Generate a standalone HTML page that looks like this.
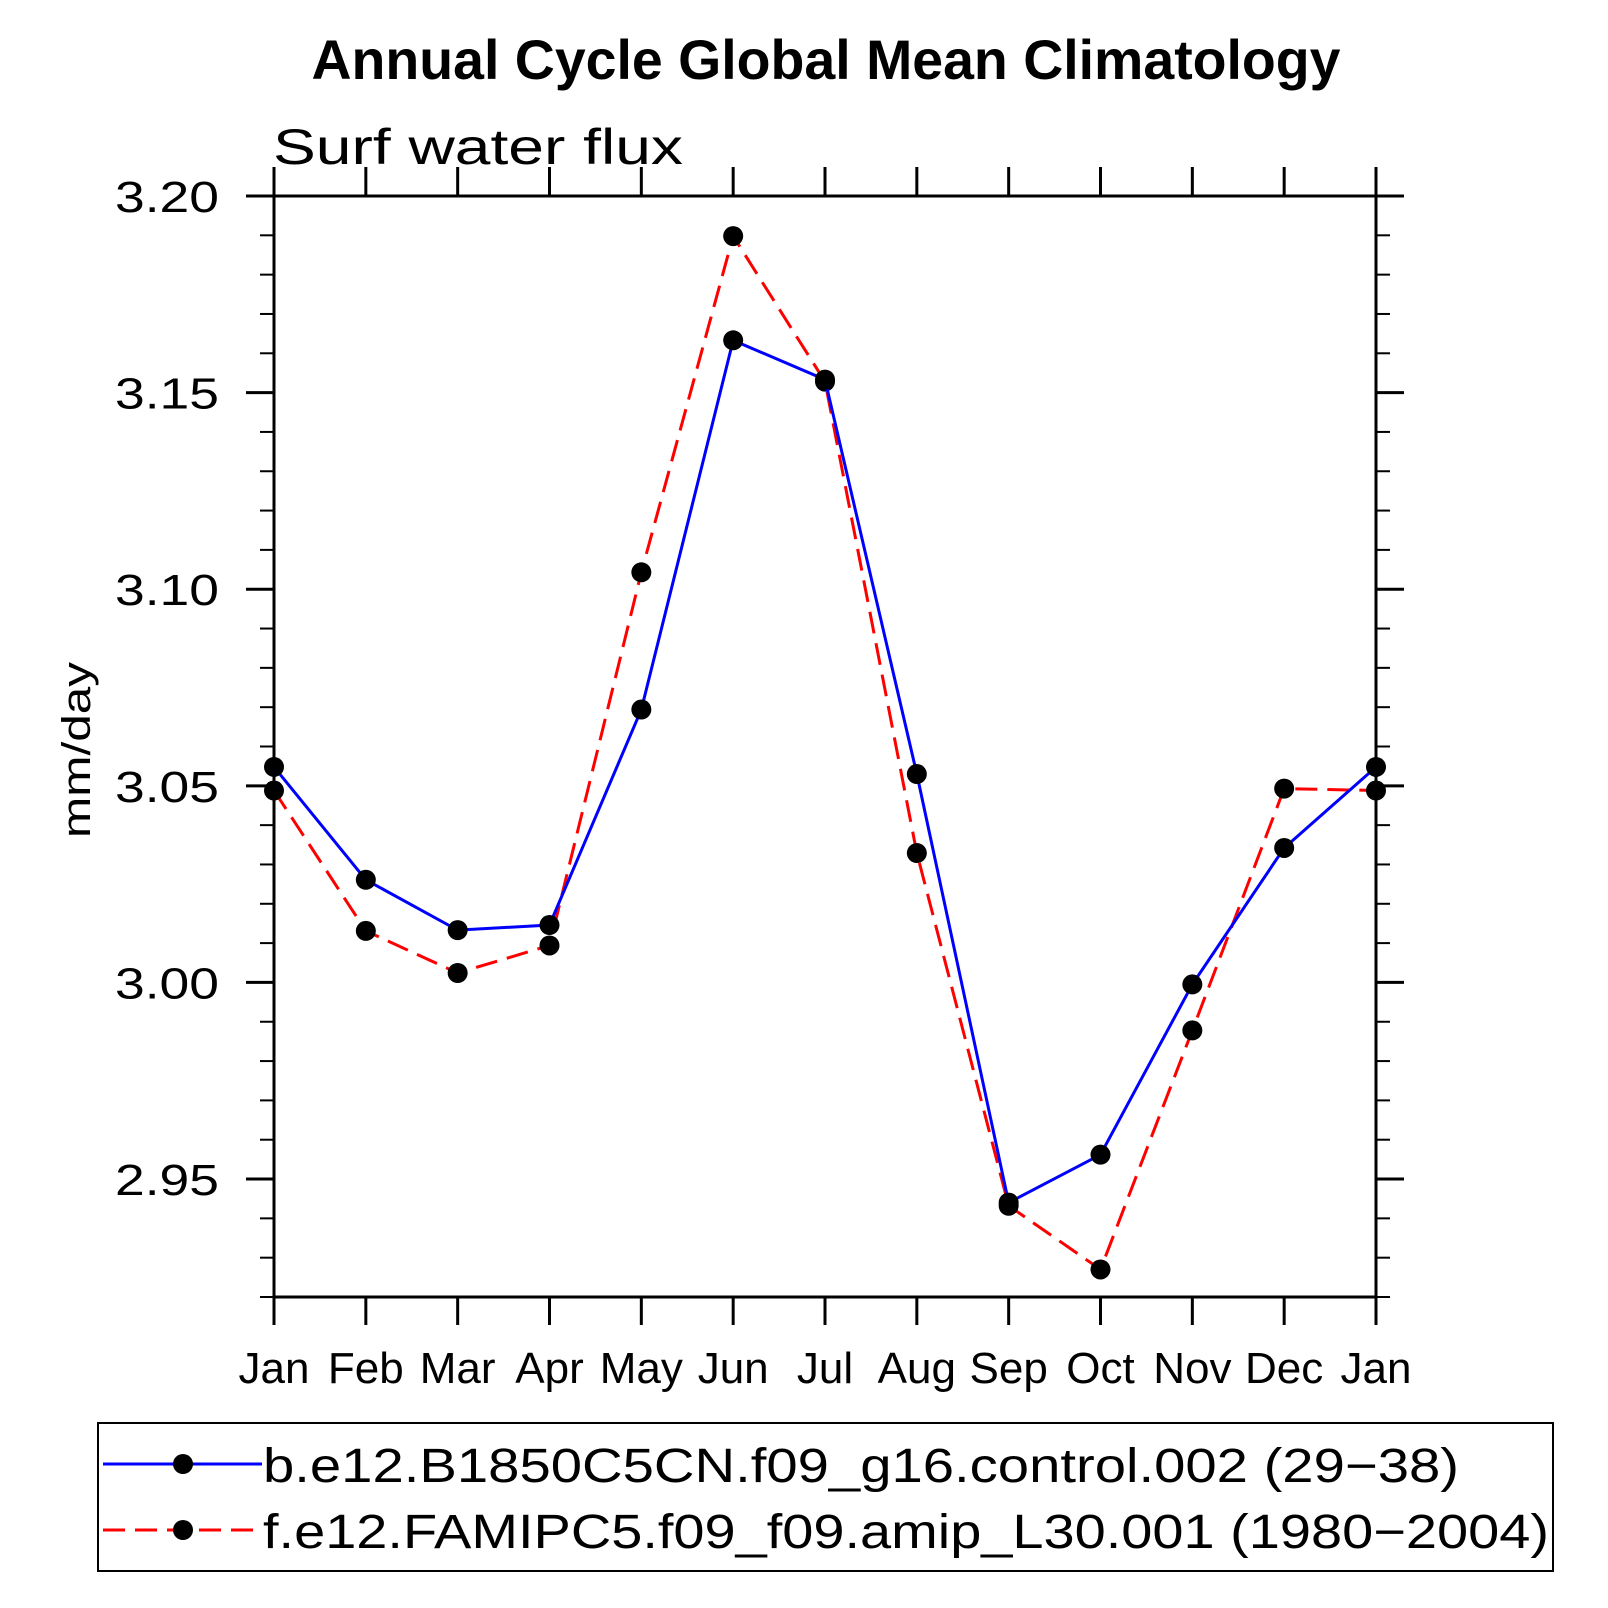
<!DOCTYPE html>
<html><head><meta charset="utf-8"><style>
html,body{margin:0;padding:0;background:#fff;}
svg{display:block;font-family:"Liberation Sans",sans-serif;}
</style></head><body>
<svg id="chart" width="1608" height="1608" viewBox="0 0 1608 1608" xmlns="http://www.w3.org/2000/svg">
<text x="826" y="79" text-anchor="middle" font-size="56" font-weight="bold" textLength="1029" lengthAdjust="spacingAndGlyphs">Annual Cycle Global Mean Climatology</text>
<text x="273" y="164" font-size="50" font-weight="300" textLength="410" lengthAdjust="spacingAndGlyphs">Surf water flux</text>
<text transform="translate(90,750) rotate(-90)" text-anchor="middle" font-size="40" textLength="176" lengthAdjust="spacingAndGlyphs">mm/day</text>
<g id="plot"></g>
<g id="legend">
<rect x="98" y="1423" width="1455" height="148" fill="none" stroke="#000" stroke-width="2"/>
<g>
<line x1="103" y1="1464" x2="262" y2="1464" stroke="#00f" stroke-width="3"/>
<circle cx="183" cy="1464" r="10" fill="#000"/>
<text x="263" y="1482" font-size="48" textLength="1196" lengthAdjust="spacingAndGlyphs">b.e12.B1850C5CN.f09_g16.control.002 (29−38)</text>
</g>
<g>
<line x1="103" y1="1530" x2="262" y2="1530" stroke="#f00" stroke-width="3" stroke-dasharray="22,10"/>
<circle cx="183" cy="1530" r="10" fill="#000"/>
<text x="263" y="1548" font-size="48" textLength="1286" lengthAdjust="spacingAndGlyphs">f.e12.FAMIPC5.f09_f09.amip_L30.001 (1980−2004)</text>
</g>
</g>
</svg>
<script>
const months = ["Jan","Feb","Mar","Apr","May","Jun","Jul","Aug","Sep","Oct","Nov","Dec","Jan"];
const controlValues = [3.0548,3.0261,3.0133,3.0146,3.0694,3.1633,3.1533,3.0530,2.9440,2.9562,2.9995,3.0342,3.0548];
const amipValues = [3.0488,3.0131,3.0024,3.0094,3.1043,3.1898,3.1528,3.0329,2.9432,2.9270,2.9878,3.0493,3.0488];
const yTickLabels = ["2.95","3.00","3.05","3.10","3.15","3.20"];
const yMin = 2.92, yMax = 3.20;
const L=274, R=1376, T=196, B=1297;
const NS="http://www.w3.org/2000/svg";
const g=document.getElementById('plot');
function xs(i){return L+(R-L)*i/(months.length-1);}
function ys(v){return B-(B-T)*(v-yMin)/(yMax-yMin);}
function mk(tag,attrs,parent){const e=document.createElementNS(NS,tag);for(const k in attrs)e.setAttribute(k,attrs[k]);(parent||g).appendChild(e);return e;}
let fr=mk('rect',{x:L,y:T,width:R-L,height:B-T,fill:'none',stroke:'#000','stroke-width':3});


for(let k=0;k<=28;k++){
  const v=yMin+k*0.01; const y=ys(v);
  const major=Math.abs(Math.round(v*100)%5)===0;
  const len=major?28:14;
  mk('line',{x1:L-len,y1:y,x2:L,y2:y,stroke:'#000','stroke-width':major?3:2});
  mk('line',{x1:R,y1:y,x2:R+len,y2:y,stroke:'#000','stroke-width':major?3:2});
}
yTickLabels.forEach(s=>{
  const t=mk('text',{x:219,y:ys(parseFloat(s))+16,'text-anchor':'end','font-size':44,'font-weight':300,textLength:104,lengthAdjust:'spacingAndGlyphs'});
  t.textContent=s;
  
  
});
months.forEach((m,i)=>{
  const x=xs(i);
  mk('line',{x1:x,y1:T-29,x2:x,y2:T,stroke:'#000','stroke-width':3});
  mk('line',{x1:x,y1:B,x2:x,y2:B+28,stroke:'#000','stroke-width':3});
  const t=mk('text',{x:x,y:1383,'text-anchor':'middle','font-size':44});
  t.textContent=m;
  
  
});
function series(vals,color,dash,name){
  const p=mk('polyline',{points:vals.map((v,i)=>xs(i)+','+ys(v)).join(' '),fill:'none',stroke:color,'stroke-width':3});
  if(dash)p.setAttribute('stroke-dasharray',dash);
  
  
  vals.forEach((v,i)=>{
    const c=mk('circle',{cx:xs(i),cy:ys(v),r:10,fill:'#000'});
    
    
  });
}
series(amipValues,'#f00','22,10','amip');
series(controlValues,'#00f',null,'control');
</script>
</body></html>
